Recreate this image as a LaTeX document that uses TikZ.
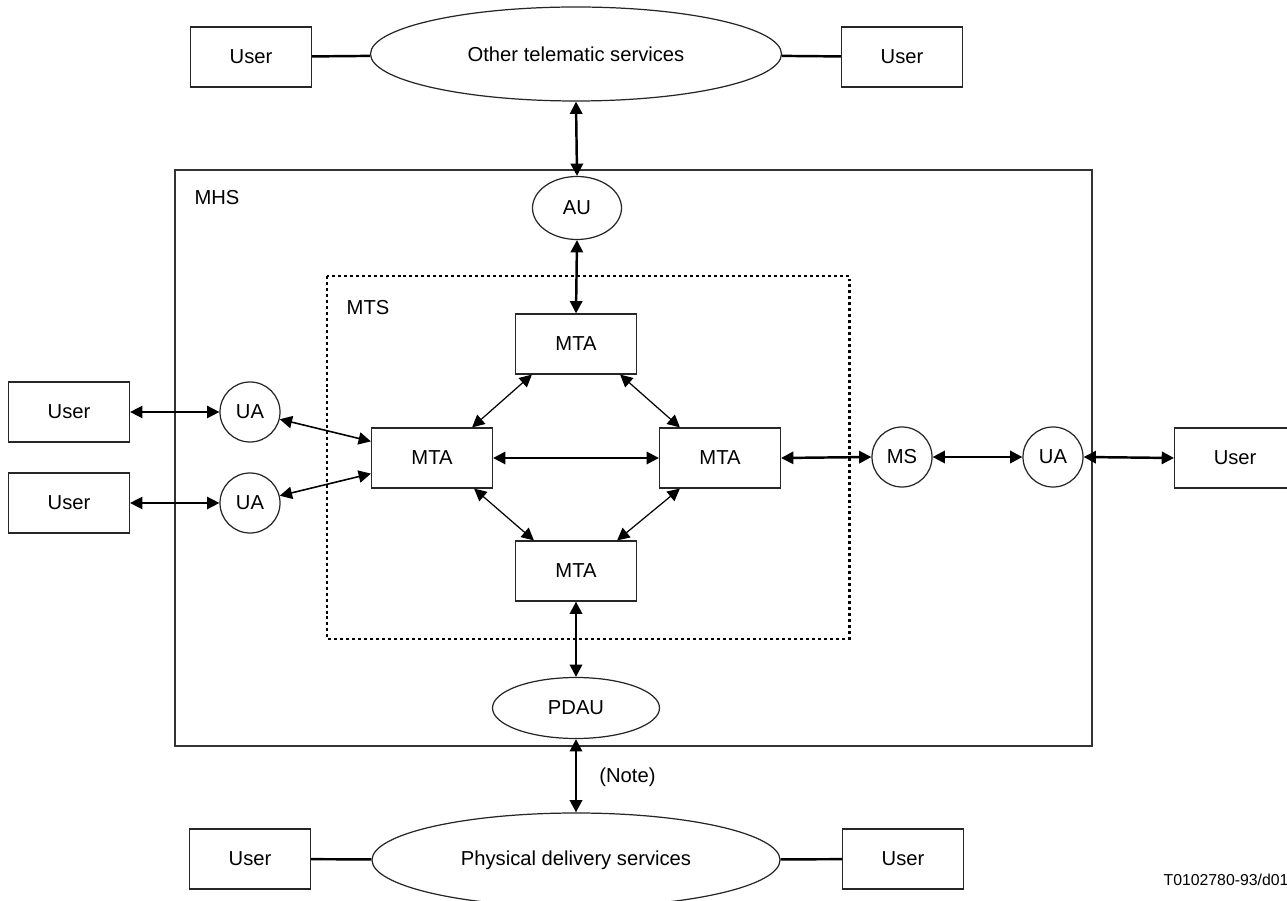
\documentclass[tikz,border=0pt]{standalone}
\usepackage{fontspec}
\setmainfont{Liberation Sans}
\usetikzlibrary{shapes.geometric,arrows.meta,calc}
\begin{document}
\begin{tikzpicture}[x=0.02cm,y=-0.02cm,
  every node/.style={font=\fontsize{11.5}{13}\selectfont},
  box/.style={draw=black!85,line width=0.7pt,minimum width=121*0.02cm,minimum height=60*0.02cm,inner sep=0pt},
  circ/.style={draw=black!85,line width=0.7pt,circle,minimum size=60*0.02cm,inner sep=0pt},
  oval/.style={draw=black!85,line width=0.7pt,ellipse,inner sep=0pt},
  dbl/.style={{Triangle[length=7pt,width=7pt]}-{Triangle[length=7pt,width=7pt]}},
  thk/.style={line width=1.4pt},
  thn/.style={line width=0.7pt},
  mid/.style={line width=0.9pt},
  lab/.style={inner sep=0pt}]
\useasboundingbox (0,0) rectangle (1287,901);
% containers
\draw[black!80,line width=0.7pt] (175,170) rectangle (1092,746);
\draw[line width=1.7pt,dash pattern=on 1.7pt off 1.7pt] (327,276) rectangle (849,639);
\node[lab] (mhs) at (217,198) {MHS};
\node[lab] (mts) at (368,308) {MTS};
% top
\node[box] (u1) at (251,57) {User};
\node[oval,minimum width=411*0.02cm,minimum height=94*0.02cm] (ots) at (576,54) {Other telematic services};
\node[box] (u2) at (902,57) {User};
\draw[thk] (u1) -- (ots);
\draw[thk] (ots) -- (u2);
% AU
\node[oval,minimum width=89*0.02cm,minimum height=63*0.02cm] (au) at (577,208) {AU};
% MTAs
\node[box] (mtaT) at (576,344) {MTA};
\node[box] (mtaL) at (432,458) {MTA};
\node[box] (mtaR) at (720,458) {MTA};
\node[box] (mtaB) at (576,571) {MTA};
% PDAU
\node[oval,minimum width=167*0.02cm,minimum height=61*0.02cm] (pdau) at (576,708) {PDAU};
% bottom
\node[box] (u3) at (250,859) {User};
\node[oval,minimum width=408*0.02cm,minimum height=94*0.02cm] (pds) at (576,860) {Physical delivery services};
\node[box] (u4) at (903,859) {User};
\draw[thk] (u3) -- (pds);
\draw[thk] (pds) -- (u4);
\node[lab,anchor=west] (note) at (599,777) {(Note)};
\node[lab] (ref) at (1226,880) {\fontsize{9}{11}\selectfont T0102780-93/d01};
% left
\node[box] (u5) at (69,412) {User};
\node[box] (u6) at (69,503) {User};
\node[circ] (uaT) at (250,412) {UA};
\node[circ] (uaB) at (250,503) {UA};
% right
\node[circ] (ms) at (902,457) {MS};
\node[circ] (uaR) at (1053,457) {UA};
\node[box,anchor=west] (u7) at (1174,458) {User};
% vertical thick arrows
\draw[thk,dbl] (ots.south) -- (au.north);
\draw[thk,dbl] (au.south) -- (mtaT.north);
\draw[thk,dbl] (mtaB.south) -- (pdau.north);
\draw[thk,dbl] (pdau.south) -- (pds.north);
% horizontal thick arrows
\draw[thk,dbl] (mtaL.east) -- (mtaR.west);
\draw[thk,dbl] (mtaR.east) -- (ms.west);
\draw[thk,dbl] (ms.east) -- (uaR.west);
\draw[thk,dbl] (uaR.east) -- (u7.west);
% left arrows
\draw[mid,dbl] (u5.east) -- (uaT.west);
\draw[mid,dbl] (u6.east) -- (uaB.west);
\draw[mid,dbl] (uaT) -- ($(mtaL.north west)+(0,14)$);
\draw[mid,dbl] (uaB) -- ($(mtaL.south west)+(0,-15)$);
% diagonals
\draw[thn,dbl] ($(mtaT.south west)+(17,0)$) -- ($(mtaL.north east)+(-21,0)$);
\draw[thn,dbl] ($(mtaT.south east)+(-17,0)$) -- ($(mtaR.north west)+(21,0)$);
\draw[thn,dbl] ($(mtaL.south east)+(-19,0)$) -- ($(mtaB.north west)+(19,0)$);
\draw[thn,dbl] ($(mtaR.south west)+(21,0)$) -- ($(mtaB.north east)+(-20,0)$);
\end{tikzpicture}
\end{document}
